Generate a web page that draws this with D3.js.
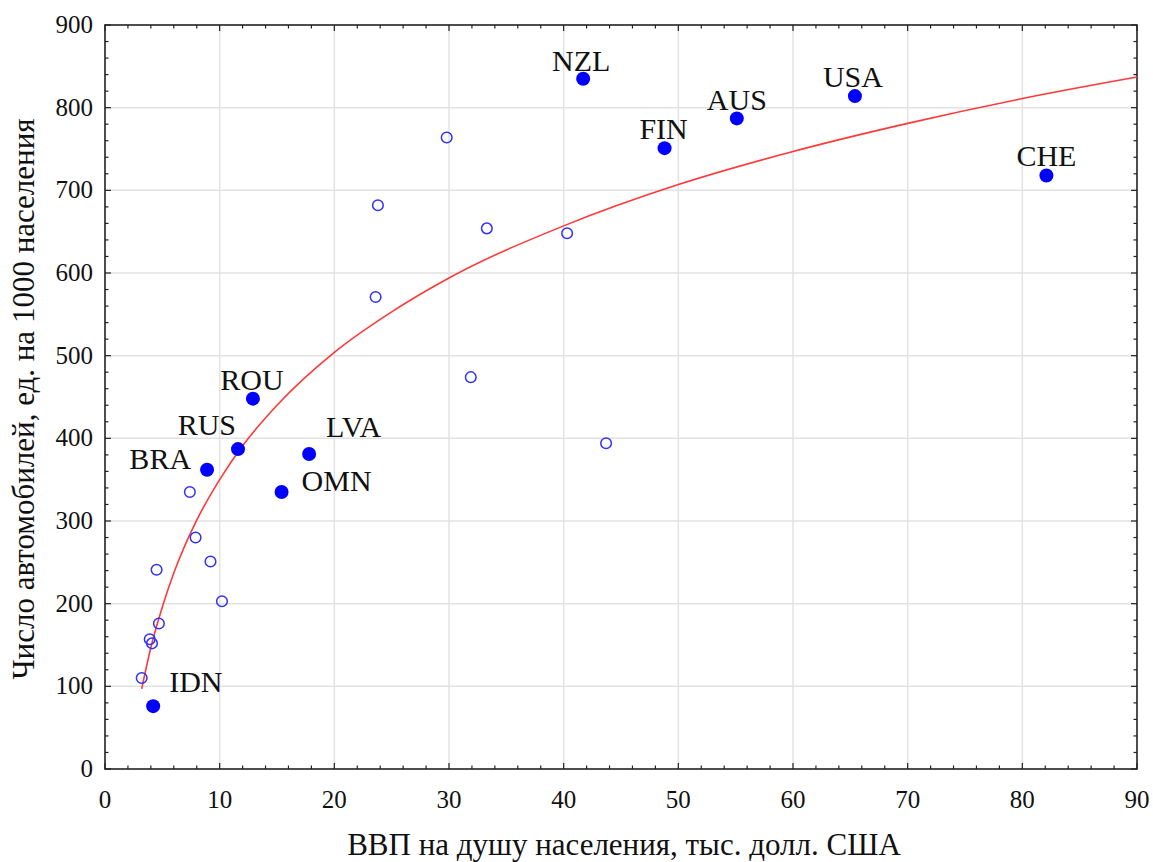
<!DOCTYPE html>
<html>
<head>
  <meta charset="utf-8">
  <script src="https://d3js.org/d3.v7.min.js"></script>
  <style>
    body { margin: 0; background: #fff; }
    svg text { font-family: "Liberation Serif", "Times New Roman", serif; fill: #111; }
  </style>
</head>
<body>
  <div id="my_dataviz"></div>
  <script>
    // labelled countries (filled markers)
    const codes = ["NZL", "FIN", "AUS", "USA", "CHE", "ROU", "RUS", "BRA", "LVA", "OMN", "IDN"];
    const codeGdp = [41.7, 48.8, 55.1, 65.4, 82.1, 12.9, 11.6, 8.9, 17.8, 15.4, 4.2];
    const codeCars = [835, 751, 787, 814, 718, 448, 387, 362, 381, 335, 76];

    // other countries (open markers)
    const otherGdp = [29.8, 23.8, 33.3, 40.3, 23.6, 31.9, 43.7, 7.4, 7.9, 9.2, 4.5, 10.2, 4.7, 3.9, 4.1, 3.2];
    const otherCars = [764, 682, 654, 648, 571, 474, 394, 335, 280, 251, 241, 203, 176, 157, 152, 110];

    // trend curve
    const fitGdp = [3.2, 4, 5, 6, 8, 10, 12, 15, 20, 25, 30, 40, 50, 60, 70, 80, 90];
    const fitCars = [97, 147, 196, 237, 301, 350, 391, 440, 504, 553, 594, 657, 707, 747, 781, 811, 837];

    const xTicks = [0, 10, 20, 30, 40, 50, 60, 70, 80, 90];
    const yTicks = [0, 100, 200, 300, 400, 500, 600, 700, 800, 900];

    // label placement relative to marker: [anchor, dx, dy]
    const labelPos = {
      NZL: ["middle", -2, -8], FIN: ["middle", -1, -9], AUS: ["middle", 0, -8],
      USA: ["middle", -2, -9], CHE: ["middle", 0, -9], ROU: ["middle", -1, -9],
      RUS: ["end", -2, -14], BRA: ["end", -16, -1], LVA: ["start", 17, -17],
      OMN: ["start", 20, -1], IDN: ["start", 16, -14]
    };

    var serif = "Liberation Serif";

    var margin = { top: 25, right: 16, bottom: 93, left: 105 },
      width = 1153 - margin.left - margin.right,
      height = 862 - margin.top - margin.bottom;

    var svg = d3.select("#my_dataviz")
      .append("svg")
      .attr("width", 1153)
      .attr("height", 862)
      .append("g")
      .attr("transform", "translate(" + margin.left + "," + margin.top + ")");

    var x = d3.scaleLinear().domain([0, 90]).range([0, width]);
    var y = d3.scaleLinear().domain([0, 900]).range([height, 0]);

    // grid
    svg.append("g").selectAll("line").data(xTicks.slice(1, -1)).enter().append("line")
      .attr("x1", d => x(d)).attr("x2", d => x(d)).attr("y1", 0).attr("y2", height)
      .attr("stroke", "#e2e2e2").attr("stroke-width", 1.5);
    svg.append("g").selectAll("line").data(yTicks.slice(1, -1)).enter().append("line")
      .attr("y1", d => y(d)).attr("y2", d => y(d)).attr("x1", 0).attr("x2", width)
      .attr("stroke", "#e2e2e2").attr("stroke-width", 1.5);

    // inward ticks on all four sides
    var xMinor = d3.range(0, 91, 2), yMinor = d3.range(0, 901, 20);
    function tickLen(d, step) { return d % step === 0 ? 6 : 3.5; }
    var tk = svg.append("g").attr("stroke", "#222").attr("stroke-width", 1.2);
    xMinor.forEach(function (d) {
      var l = tickLen(d, 10);
      tk.append("line").attr("x1", x(d)).attr("x2", x(d)).attr("y1", height).attr("y2", height - l);
      tk.append("line").attr("x1", x(d)).attr("x2", x(d)).attr("y1", 0).attr("y2", l);
    });
    yMinor.forEach(function (d) {
      var l = tickLen(d, 100);
      tk.append("line").attr("y1", y(d)).attr("y2", y(d)).attr("x1", 0).attr("x2", l);
      tk.append("line").attr("y1", y(d)).attr("y2", y(d)).attr("x1", width).attr("x2", width - l);
    });

    svg.append("rect").attr("width", width).attr("height", height)
      .attr("fill", "none").attr("stroke", "#222").attr("stroke-width", 1.6);

    // tick labels
    svg.append("g").selectAll("text").data(xTicks).enter().append("text")
      .attr("x", d => x(d)).attr("y", height + 39)
      .attr("text-anchor", "middle").attr("font-family", serif).style("font-size", "25px").text(d => d);
    svg.append("g").selectAll("text").data(yTicks).enter().append("text")
      .attr("x", -12).attr("y", d => y(d) + 8)
      .attr("text-anchor", "end").attr("font-family", serif).style("font-size", "25px").text(d => d);

    // axis titles
    svg.append("text")
      .attr("x", x(45) + 3).attr("y", height + 86)
      .attr("text-anchor", "middle").attr("font-family", serif).style("font-size", "31px")
      .text("ВВП на душу населения, тыс. долл. США");
    svg.append("text")
      .attr("transform", "translate(" + (-71) + "," + (height / 2 + 2) + ") rotate(-90)")
      .attr("text-anchor", "middle").attr("font-family", serif).style("font-size", "31px")
      .text("Число автомобилей, ед. на 1000 населения");

    // trend curve
    var fit = fitGdp.map((g, i) => [g, fitCars[i]]);
    svg.append("path")
      .datum(fit)
      .attr("d", d3.line().x(d => x(d[0])).y(d => y(d[1])).curve(d3.curveMonotoneX))
      .attr("fill", "none").attr("stroke", "#ff3838").attr("stroke-width", 1.6);

    // open markers
    svg.append("g").selectAll("circle").data(otherGdp).enter().append("circle")
      .attr("cx", d => x(d)).attr("cy", (d, i) => y(otherCars[i])).attr("r", 5.3)
      .attr("fill", "none").attr("stroke", "#3030ff").attr("stroke-width", 1.5);

    // filled markers with labels
    var lab = svg.append("g").selectAll("g").data(codes).enter().append("g")
      .attr("transform", (d, i) => "translate(" + x(codeGdp[i]) + "," + y(codeCars[i]) + ")");
    lab.append("circle").attr("r", 7).attr("fill", "#0000ff");
    lab.append("text")
      .attr("text-anchor", d => labelPos[d][0])
      .attr("x", d => labelPos[d][1]).attr("y", d => labelPos[d][2])
      .attr("font-family", serif).style("font-size", "30px").text(d => d);
  </script>
</body>
</html>
